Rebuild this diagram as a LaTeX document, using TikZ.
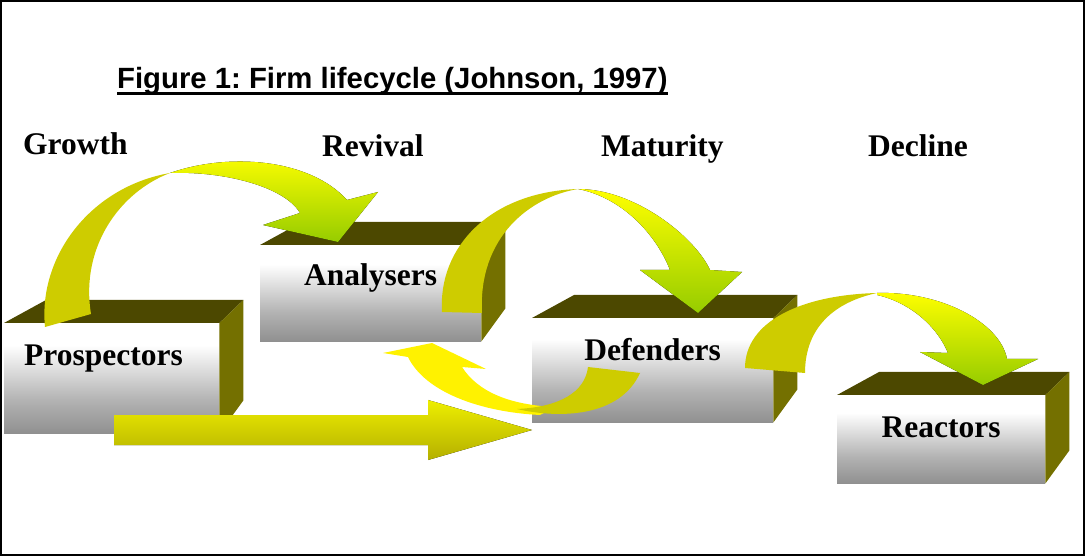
\documentclass[tikz,border=0pt]{standalone}
\usepackage{fontspec}
\setmainfont{Liberation Serif}
\newfontfamily\titlefont{Liberation Sans}
\usetikzlibrary{calc}
\frenchspacing

\definecolor{facetop}{RGB}{76,72,0}
\definecolor{faceside}{RGB}{116,112,0}
\definecolor{ribbonback}{RGB}{206,204,0}
\definecolor{ribbontip}{RGB}{150,204,0}
\definecolor{bardark}{RGB}{104,100,0}
\definecolor{barlow}{RGB}{180,176,0}
\definecolor{barhigh}{RGB}{238,238,0}

\pgfdeclareverticalshading{boxfront}{100bp}{color(0bp)=(black!65); color(20bp)=(black!48); color(40bp)=(black!30); color(65bp)=(white); color(95bp)=(white); color(100bp)=(black!8)}
\pgfdeclareverticalshading{barshade}{100bp}{color(0bp)=(bardark); color(25bp)=(barlow); color(75bp)=(barhigh); color(100bp)=(yellow)}

% top and right faces behind a front face
\newcommand\boxsides[1]{
	\fill[facetop] (#1.north west) -- (#1.north east) -- ++(24,23) -- ($(#1.north west)+(42,23)$) -- cycle;
	\fill[faceside] (#1.north east) -- ++(24,23) -- ($(#1.south east)+(24,33)$) -- (#1.south east) -- cycle;
}

\begin{document}
\begin{tikzpicture}[
x = 1pt, y = 1pt,
every node/.style = {
	inner sep = 0pt,
	font = \fontsize{31.5}{36}\selectfont\bfseries
},
block/.style = {
	anchor = north west,
	text height = 42pt,
	shade,
	shading = boxfront
},
stage/.style = {
	anchor = base west
},
ribbon/.style = {
	top color = yellow,
	bottom color = ribbontip
}
]

\useasboundingbox (0,0) rectangle (1086,557);

\node (title) [anchor=base west, font=\titlefont\fontsize{29.3}{35}\selectfont\bfseries] at (117,468) {Figure 1: Firm lifecycle (Johnson, 1997)};
\draw[line width=3pt] ([yshift=-5pt]title.base west) -- ([yshift=-5pt]title.base east);

\node (growth) [stage] at (23,402) {Growth};
\node (revival) [stage] at (322,400) {Revival};
\node (maturity) [stage] at (601,400) {Maturity};
\node (decline) [stage] at (868,400) {Decline};

\node (prosp) [block, minimum width=215pt, text width=175pt, align=left, text depth=68pt] at (4,234) {Prospectors};
\boxsides{prosp}

\node (analys) [block, minimum width=221pt, text height=40pt, text depth=56pt] at (260,312) {Analysers};
\boxsides{analys}

\node (defend) [block, minimum width=241pt, text depth=62pt] at (532,239) {Defenders};
\boxsides{defend}

\node (react) [block, minimum width=208pt, text depth=46pt] at (837,162) {Reactors};
\boxsides{react}

% prospectors -> analysers
\fill[ribbonback] (45,230) .. controls (38,300) and (90,370) .. (170,384) .. controls (120,365) and (80,310) .. (91,243) -- cycle;
\fill[ribbon] (170,384) .. controls (230,405) and (310,398) .. (347,357) -- (378,365) -- (338,315) -- (263,332) -- (300,344) .. controls (285,370) and (225,386) .. (170,384) -- cycle;

% analysers -> defenders
\fill[ribbonback] (442,245) .. controls (438,310) and (490,365) .. (578,368) .. controls (530,360) and (478,320) .. (482,244) -- cycle;
\fill[ribbon] (578,368) .. controls (635,368) and (695,320) .. (710,287) -- (742,285) -- (698,244) -- (640,287) -- (670,287) .. controls (655,325) and (620,360) .. (578,368) -- cycle;

% defenders -> reactors
\fill[ribbonback] (745,189) .. controls (745,235) and (800,262) .. (877,264) .. controls (835,255) and (805,230) .. (805,184) -- cycle;
\fill[ribbon] (877,264) .. controls (940,266) and (1000,235) .. (1007,198) -- (1038,198) -- (983,172) -- (920,205) -- (948,204) .. controls (935,235) and (905,256) .. (877,262) -- cycle;

% straight jump prospectors -> defenders
\fill[shade, shading=barshade] (114,112) -- (428,112) -- (428,97) -- (532,127) -- (428,157) -- (428,142) -- (114,142) -- cycle;

% defenders back to analysers
\fill[yellow] (408,200) -- (383,204) -- (432,214) -- (486,188) -- (462,190) .. controls (478,165) and (510,152) .. (555,150) -- (540,142) .. controls (480,145) and (425,165) .. (408,200) -- cycle;
\fill[ribbonback] (588,190) .. controls (585,165) and (560,150) .. (517,148) .. controls (560,138) and (620,140) .. (640,184) -- cycle;

\draw[line width=2pt] (1,2) rectangle (1084,556);

\end{tikzpicture}
\end{document}
